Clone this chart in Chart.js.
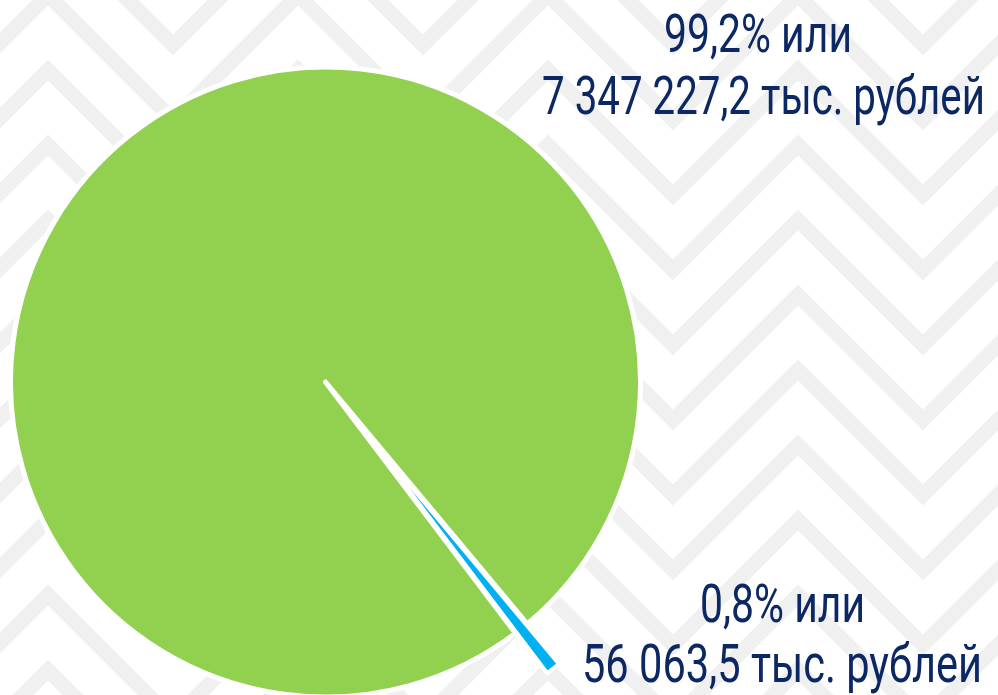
<!DOCTYPE html>
<html lang="ru">
<head>
<meta charset="utf-8">
<title>Структура</title>
<script src="https://cdn.jsdelivr.net/npm/chart.js@4.4.1/dist/chart.umd.min.js"></script>
<style>
  html, body { margin: 0; padding: 0; }
  body {
    width: 998px; height: 695px; overflow: hidden; position: relative;
    background-color: #ffffff;
    background-image: url("data:image/svg+xml,%3Csvg xmlns='http://www.w3.org/2000/svg' width='250' height='75'%3E%3Cg fill='none' stroke='%23f0f0f0' stroke-width='15' stroke-linejoin='miter'%3E%3Cpolyline points='-77,45 48,-80 173,45 298,-80'/%3E%3Cpolyline points='-77,120 48,-5 173,120 298,-5'/%3E%3Cpolyline points='-77,195 48,70 173,195 298,70'/%3E%3C/g%3E%3C/svg%3E");
    background-repeat: repeat;
  }
  #chart { position: absolute; left: 0; top: 0; }
  .lbl {
    position: absolute; white-space: nowrap;
    font-family: Roboto, "Noto Sans", sans-serif;
    font-size: 53px; line-height: 53px; color: #0c2864;
    transform-origin: 0 0;
  }
  .base { display: inline-block; width: 0; height: 0; vertical-align: baseline; }
</style>
</head>
<body>
<canvas id="chart" width="998" height="695"></canvas>
<div id="labels"></div>
<script>
// data
const categories = ["Доля 1", "Доля 2"];
const values = [7347227.2, 56063.5];
const colors = ["#92d050", "#00b0f0"];
const pullOut = [0, 51];

function fmt(v) {
  const parts = v.toFixed(1).split(".");
  const intPart = parts[0].replace(/\B(?=(\d{3})+(?!\d))/g, " ");
  return intPart + "," + parts[1];
}

const total = values.reduce((a, b) => a + b, 0);
const labelLines = values.map((v) => [
  (v / total * 100).toFixed(1).replace(".", ",") + "% или",
  fmt(v) + " тыс. рублей",
]);

// where each text line sits: [left, right, baseline]
const linePlaces = [
  [[664, 852, 52], [542, 985, 114]],
  [[700, 865, 622], [582, 982, 682]],
];

// move a slice out along its middle angle without shrinking its angle
const explode = {
  id: "explode",
  afterDatasetUpdate(chart, args) {
    args.meta.data.forEach((arc, i) => {
      const d = pullOut[i] || 0;
      if (!d) return;
      const mid = (arc.startAngle + arc.endAngle) / 2;
      arc.x += Math.cos(mid) * d;
      arc.y += Math.sin(mid) * d;
    });
  },
};

const ctx = document.getElementById("chart").getContext("2d");
new Chart(ctx, {
  type: "pie",
  data: {
    labels: categories,
    datasets: [
      {
        data: values,
        backgroundColor: colors,
        borderColor: "#ffffff",
        borderWidth: [5, 4],
        borderJoinStyle: "round",
        hoverOffset: 0,
        clip: false,
      },
    ],
  },
  options: {
    responsive: false,
    animation: false,
    events: [],
    radius: 315,
    rotation: 142.9,
    layout: { padding: { left: 0, right: 347, top: 69, bottom: 0 } },
    plugins: {
      legend: { display: false },
      tooltip: { enabled: false },
    },
  },
  plugins: [explode],
});

// text labels
const holder = document.getElementById("labels");
labelLines.forEach((lines, i) => {
  lines.forEach((txt, j) => {
    const [left, right, baseline] = linePlaces[i][j];
    const el = document.createElement("div");
    el.className = "lbl";
    el.textContent = txt;
    const mark = document.createElement("span");
    mark.className = "base";
    el.appendChild(mark);
    el.style.left = "0px";
    el.style.top = "0px";
    holder.appendChild(el);
    const w = el.getBoundingClientRect().width;
    const b = mark.getBoundingClientRect().top - el.getBoundingClientRect().top;
    const s = (right - left) / w;
    el.style.left = left + "px";
    el.style.top = (baseline - b) + "px";
    el.style.transform = "scaleX(" + s.toFixed(4) + ")";
  });
});
</script>
</body>
</html>
